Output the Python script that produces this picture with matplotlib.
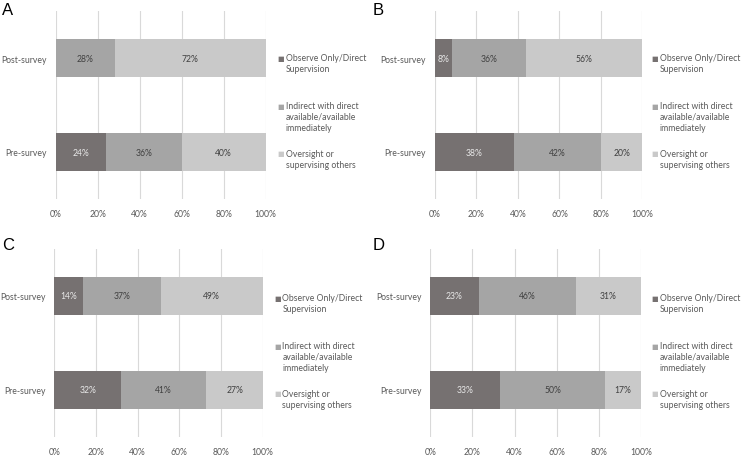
import numpy as np
import matplotlib
matplotlib.use("Agg")
import matplotlib.pyplot as plt

plt.rcParams['font.family'] = ['Lato', 'DejaVu Sans']

categories = ["Pre-survey", "Post-survey"]
series_names = ["Observe Only/Direct\nSupervision",
                "Indirect with direct\navailable/available\nimmediately",
                "Oversight or\nsupervising others"]
colors = ["#767171", "#A5A5A5", "#C9C9C9"]
label_colors = ["#E8E8E8", "#404040", "#404040"]
xticks = [0, 20, 40, 60, 80, 100]
xtick_labels = ["0%", "20%", "40%", "60%", "80%", "100%"]

# values per panel: [observe, indirect, oversight] for [pre, post]
observe_A = [24, 0]
indirect_A = [36, 28]
oversight_A = [40, 72]

observe_B = [38, 8]
indirect_B = [42, 36]
oversight_B = [20, 56]

observe_C = [32, 14]
indirect_C = [41, 37]
oversight_C = [27, 49]

observe_D = [33, 23]
indirect_D = [50, 46]
oversight_D = [17, 31]

W, H = 742, 456
fig = plt.figure(figsize=(W / 100, H / 100), dpi=100)

FS = 6.2


def px_axes(left, right, top, bottom):
    return fig.add_axes([left / W, 1 - bottom / H, (right - left) / W, (bottom - top) / H])


def draw_panel(ax, letter, data, leg_x, leg_top, letter_xy):
    y = np.arange(len(categories))
    left = np.zeros(len(categories))
    for i, vals in enumerate(data):
        vals = np.array(vals, dtype=float)
        ax.barh(y, vals, left=left, height=0.4, color=colors[i], zorder=3)
        for j in range(len(categories)):
            if vals[j] > 0:
                ax.text(left[j] + vals[j] / 2, y[j], "%d%%" % vals[j], ha='center', va='center',
                        fontsize=FS, color=label_colors[i], zorder=4)
        left = left + vals
    ax.set_xlim(0, 100)
    ax.set_ylim(-0.5, 1.5)
    ax.set_xticks(xticks)
    ax.set_xticklabels(xtick_labels)
    ax.set_yticks(y)
    ax.set_yticklabels(categories)
    ax.tick_params(axis='both', length=0, labelsize=FS, labelcolor="#595959")
    ax.tick_params(axis='x', pad=7)
    ax.tick_params(axis='y', pad=6.5)
    ax.grid(axis='x', color="#D9D9D9", linewidth=0.8, zorder=0)
    for s in ax.spines.values():
        s.set_visible(False)
    fig.text(letter_xy[0] / W, 1 - letter_xy[1] / H, letter, fontsize=12,
             family='Liberation Sans', color='black', va='top', ha='left')
    for i, name in enumerate(series_names):
        ty = leg_top + i * 47.8
        fig.text((leg_x - 7.5) / W, 1 - (ty + 4.8) / H, "\u25a0", fontsize=5, color=colors[i],
                 va='center', ha='left', family='DejaVu Sans')
        fig.text((leg_x + 1) / W, 1 - ty / H, name, fontsize=FS, color="#595959",
                 va='top', ha='left', linespacing=1.3)


axA = px_axes(56, 265.5, 12, 200)
draw_panel(axA, "A", [observe_A, indirect_A, oversight_A], 284.5, 54, (2, 3))
axB = px_axes(435, 642.5, 12, 200)
draw_panel(axB, "B", [observe_B, indirect_B, oversight_B], 659, 54, (373, 3))
axC = px_axes(54.3, 262.7, 250, 438)
draw_panel(axC, "C", [observe_C, indirect_C, oversight_C], 281.5, 294, (2, 238))
axD = px_axes(430.3, 641, 250, 438)
draw_panel(axD, "D", [observe_D, indirect_D, oversight_D], 659, 294, (373, 238))

fig.savefig("out.png", dpi=100)
